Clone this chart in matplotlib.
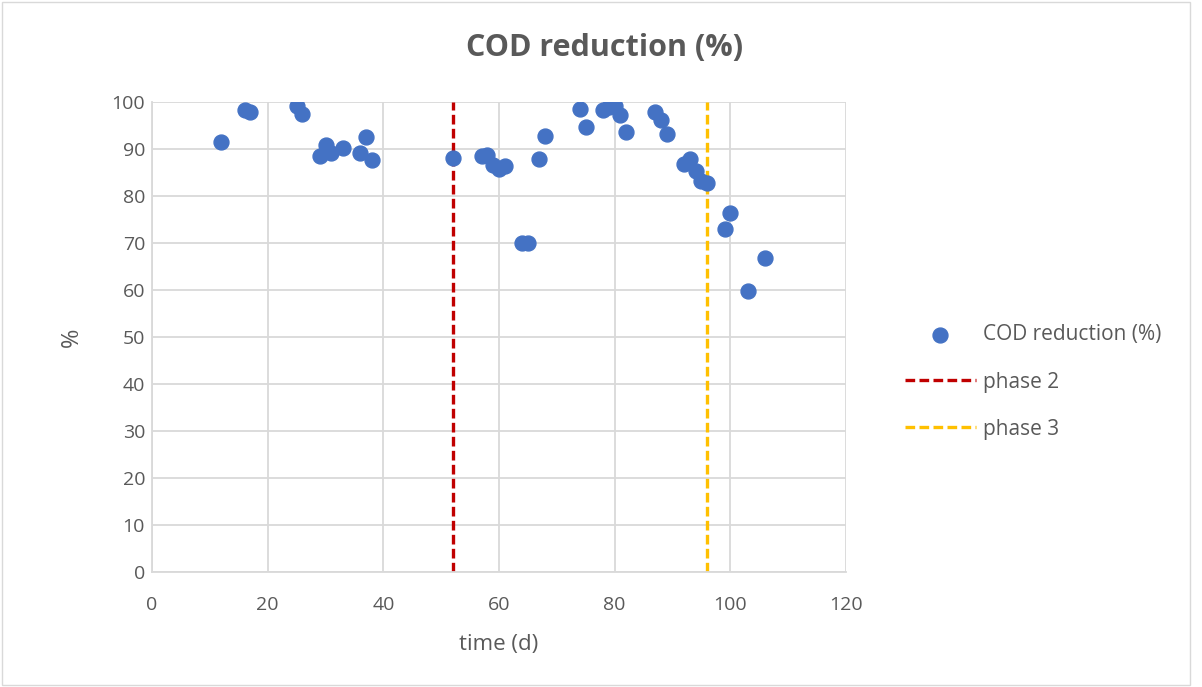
import matplotlib.pyplot as plt
from matplotlib.patches import Rectangle

plt.rcParams['font.family'] = ['Open Sans', 'DejaVu Sans']

# COD reduction measurements
time_d = [12, 16, 17, 25, 26, 29, 30, 31, 33, 36, 37, 38,
          52, 57, 58, 59, 60, 61, 64, 65, 67, 68,
          74, 75, 78, 79, 80, 81, 82, 87, 88, 89,
          92, 93, 94, 95, 96, 99, 100, 103, 106]
cod_reduction = [91.5, 98.3, 97.9, 99.1, 97.4, 88.5, 90.9, 89.1, 90.2, 89.1, 92.6, 87.7,
                 88.1, 88.5, 88.8, 86.5, 85.7, 86.4, 70.0, 70.1, 87.9, 92.8,
                 98.5, 94.7, 98.3, 98.9, 99.1, 97.2, 93.6, 97.9, 96.2, 93.2,
                 86.8, 87.9, 85.3, 83.2, 82.7, 73.0, 76.4, 59.8, 66.8]

phase_2_start = 52
phase_3_start = 96

text_color = '#595959'
grid_color = '#D9D9D9'

fig = plt.figure(figsize=(12.02, 6.87), dpi=100)
ax = fig.add_axes([152 / 1202, 1 - 572 / 687, 694 / 1202, 470 / 687])

ax.scatter(time_d, cod_reduction, s=115, color='#4472C4', zorder=3,
           label='COD reduction (%)')
ax.plot([phase_2_start, phase_2_start], [0, 100], color='#C00000', lw=2.4,
        dashes=(2.9, 1.3), zorder=2, label='phase 2')
ax.plot([phase_3_start, phase_3_start], [0, 100], color='#FFC000', lw=2.4,
        dashes=(2.9, 1.3), zorder=2, label='phase 3')

ax.set_xlim(0, 120)
ax.set_ylim(0, 100)
ax.set_xticks(range(0, 121, 20))
ax.set_yticks(range(0, 101, 10))
ax.grid(True, color=grid_color, lw=1.3, zorder=0)
ax.set_axisbelow(True)
for side in ['top', 'right']:
    ax.spines[side].set_visible(False)
for side in ['left', 'bottom']:
    ax.spines[side].set_color(grid_color)
    ax.spines[side].set_linewidth(1.3)
ax.tick_params(length=0, labelsize=14, labelcolor=text_color)
ax.tick_params(axis='x', pad=17)
ax.tick_params(axis='y', pad=5)

ax.set_xlabel('time (d)', fontsize=16, color=text_color, labelpad=15)
ax.set_ylabel('%', fontsize=17, color=text_color, labelpad=20)

fig.text(605 / 1202, 1 - 48 / 687, 'COD reduction (%)', ha='center', va='center',
         fontsize=22, fontweight='bold', color=text_color)

fig.legend(loc='center left', bbox_to_anchor=(905 / 1202, 1 - 382 / 687),
           frameon=False, fontsize=15, labelcolor=text_color,
           handlelength=3.4, handletextpad=0.35, labelspacing=1.25, borderpad=0,
           borderaxespad=0)

fig.patches.append(Rectangle((2 / 1202, 2 / 687), 1188 / 1202, 683 / 687,
                             transform=fig.transFigure, fill=False,
                             edgecolor='#D9D9D9', lw=1))

fig.savefig('out.png', dpi=100)
